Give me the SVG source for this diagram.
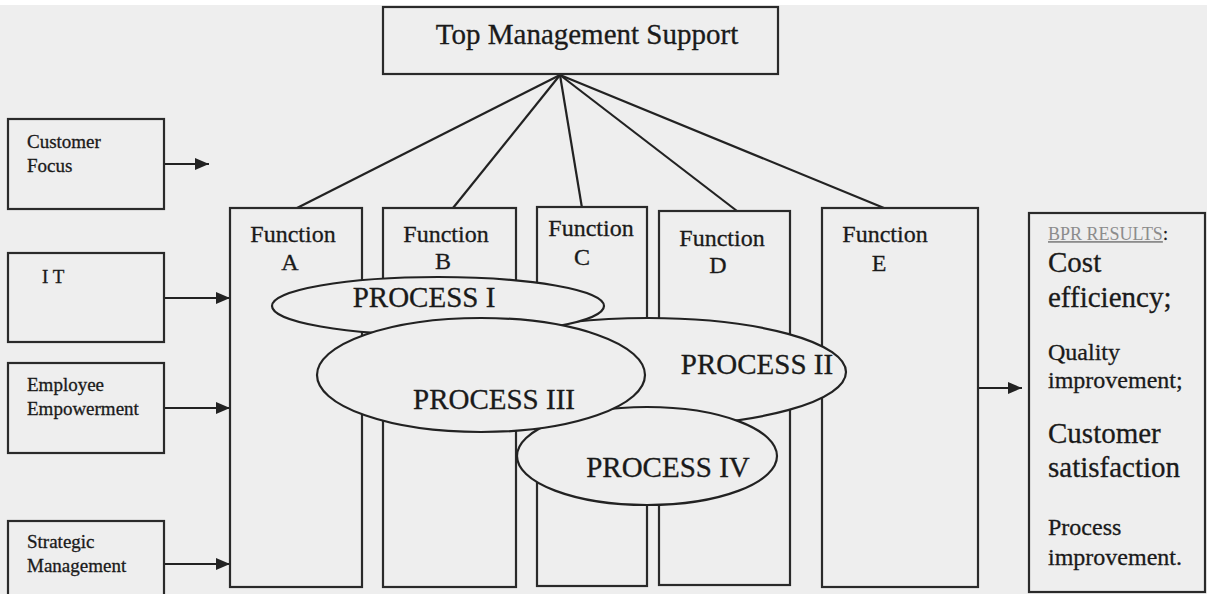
<svg xmlns="http://www.w3.org/2000/svg" width="1207" height="594" viewBox="0 0 1207 594">
  <defs>
    <marker id="arrow" viewBox="0 0 14 12" refX="14" refY="6" markerWidth="14" markerHeight="12" markerUnits="userSpaceOnUse" orient="auto">
      <path d="M0,0 L14,6 L0,12 Z" fill="#222222"/>
    </marker>
    <style>
      .box { fill: #eeeeee; stroke: #2a2a2a; stroke-width: 2.2; }
      .proc { fill: #eeeeee; stroke: #222222; stroke-width: 2.2; }
      .link { stroke: #222222; stroke-width: 2.2; fill: none; }
      .flow { stroke: #222222; stroke-width: 2.2; fill: none; marker-end: url(#arrow); }
      text { font-family: "Liberation Serif", "Times New Roman", serif; fill: #1a1a1a; stroke: #1a1a1a; stroke-width: 0.3; }
      .small { font-size: 19px; }
      .func { font-size: 24px; text-anchor: middle; }
      .ptext { font-size: 29px; text-anchor: middle; }
      .big { font-size: 29px; }
      .mid { font-size: 24px; }
    </style>
  </defs>

  <!-- page -->
  <rect x="0" y="0" width="1207" height="594" fill="#ffffff"/>
  <rect x="0" y="5" width="1207" height="589" fill="#eeeeee"/>

  <!-- connectors: management lines and input/output arrows -->
  <g id="connectors">
    <line class="link" x1="560" y1="75" x2="297" y2="208"/>
    <line class="link" x1="560" y1="75" x2="453" y2="208"/>
    <line class="link" x1="560" y1="75" x2="582" y2="208"/>
    <line class="link" x1="560" y1="75" x2="737" y2="211"/>
    <line class="link" x1="560" y1="75" x2="884" y2="208"/>
    <line class="flow" x1="164" y1="164" x2="209" y2="164"/>
    <line class="flow" x1="164" y1="298" x2="230" y2="298"/>
    <line class="flow" x1="164" y1="408" x2="230" y2="408"/>
    <line class="flow" x1="164" y1="564" x2="230" y2="564"/>
    <line class="flow" x1="978" y1="388" x2="1022" y2="388"/>
  </g>

  <g id="top-management">
    <rect class="box" x="383" y="7" width="395" height="67"/>
    <text x="587" y="44" font-size="29" text-anchor="middle">Top Management Support</text>
  </g>

  <g id="customer-focus">
    <rect class="box" x="8" y="119" width="156" height="90"/>
    <text class="small" x="27" y="148">Customer</text>
    <text class="small" x="27" y="172">Focus</text>
  </g>
  <g id="it">
    <rect class="box" x="8" y="253" width="156" height="89"/>
    <text class="small" x="42" y="283">I T</text>
  </g>
  <g id="employee-empowerment">
    <rect class="box" x="8" y="363" width="156" height="90"/>
    <text class="small" x="27" y="391">Employee</text>
    <text class="small" x="27" y="415">Empowerment</text>
  </g>
  <g id="strategic-management">
    <rect class="box" x="8" y="521" width="156" height="80"/>
    <text class="small" x="27" y="548">Strategic</text>
    <text class="small" x="27" y="572">Management</text>
  </g>

  <g id="function-a">
    <rect class="box" x="230" y="208" width="132" height="379"/>
    <text class="func" x="293" y="242">Function</text>
    <text class="func" x="290" y="270">A</text>
  </g>
  <g id="function-b">
    <rect class="box" x="383" y="208" width="133" height="379"/>
    <text class="func" x="446" y="242">Function</text>
    <text class="func" x="443" y="269">B</text>
  </g>
  <g id="function-c">
    <rect class="box" x="537" y="207" width="110" height="379"/>
    <text class="func" x="591" y="236" font-size="19">Function</text>
    <text class="func" x="582" y="265">C</text>
  </g>
  <g id="function-d">
    <rect class="box" x="659" y="211" width="131" height="374"/>
    <text class="func" x="722" y="246">Function</text>
    <text class="func" x="718" y="273">D</text>
  </g>
  <g id="function-e">
    <rect class="box" x="822" y="208" width="156" height="379"/>
    <text class="func" x="885" y="242">Function</text>
    <text class="func" x="879" y="271">E</text>
  </g>

  <!-- processes, stacked back to front -->
  <g id="process-2">
    <ellipse class="proc" cx="648" cy="372" rx="198" ry="54"/>
    <text class="ptext" x="757" y="374">PROCESS II</text>
  </g>
  <g id="process-4">
    <ellipse class="proc" cx="647" cy="456" rx="130" ry="49"/>
    <text class="ptext" x="668" y="477">PROCESS IV</text>
  </g>
  <g id="process-1">
    <ellipse class="proc" cx="438" cy="306" rx="166" ry="29"/>
    <text class="ptext" x="424" y="307">PROCESS I</text>
  </g>
  <g id="process-3">
    <ellipse class="proc" cx="481" cy="375" rx="164" ry="57"/>
    <text class="ptext" x="494" y="409">PROCESS III</text>
  </g>

  <g id="bpr-results">
    <rect class="box" x="1029" y="213" width="176" height="379"/>
    <text x="1048" y="240" font-size="18"><tspan fill="#8c8c8c" stroke="none" text-decoration="underline">BPR RESULTS</tspan>:</text>
    <text class="big" x="1048" y="272">Cost</text>
    <text class="big" x="1048" y="307">efficiency;</text>
    <text class="mid" x="1048" y="360">Quality</text>
    <text class="mid" x="1048" y="388">improvement;</text>
    <text class="big" x="1048" y="443">Customer</text>
    <text class="big" x="1048" y="477">satisfaction</text>
    <text class="mid" x="1048" y="535">Process</text>
    <text class="mid" x="1048" y="565">improvement.</text>
  </g>
</svg>
